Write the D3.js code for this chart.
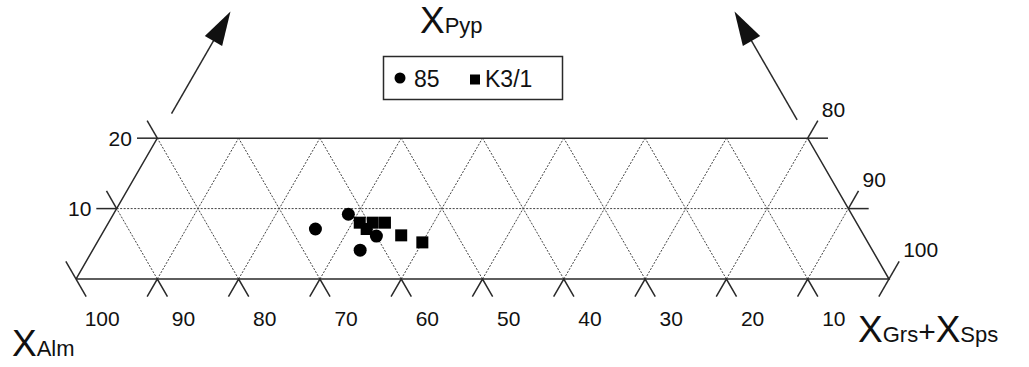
<!DOCTYPE html>
<html>
<head>
<meta charset="utf-8">
<script src="https://cdn.jsdelivr.net/npm/d3@7"></script>
<style>
  body { margin: 0; background: #fff; }
  text { font-family: "Liberation Sans", Arial, sans-serif; fill: #111; }
</style>
</head>
<body>
<svg id="chart" width="1029" height="367"></svg>
<script>
// compositions in percent: Pyp, Grs+Sps, Alm
const s85Pyp = [7.1, 9.2, 6.1, 4.1];
const s85GrsSps = [25.9, 28.9, 33.9, 32.9];
const s85Alm = [67.0, 61.9, 60.0, 63.0];

const k31Pyp = [8.0, 8.0, 8.0, 7.1, 6.2, 5.2];
const k31GrsSps = [30.9, 32.5, 34.0, 32.2, 36.9, 40.0];
const k31Alm = [61.1, 59.5, 58.0, 60.7, 56.9, 54.8];

const almTicks = [100, 90, 80, 70, 60, 50, 40, 30, 20, 10];
const pypTicks = [10, 20];
const grsSpsTicks = [80, 90, 100];
const gridSteps = [0, 10, 20, 30, 40, 50, 60, 70, 80, 90, 100];
const pypMax = 20;

const svg = d3.select('#chart');

// ternary projection: bottom edge runs Alm=100 (left) -> Grs+Sps=100 (right)
const side = 813;
const x = d3.scaleLinear().domain([0, 100]).range([76, 76 + side]);
const y = d3.scaleLinear().domain([0, 100]).range([279, 279 - side * Math.sqrt(3) / 2]);
const proj = (p, g) => [x(g + p / 2), y(p)];
const tick = 2.5; // tick length, percent

const line = d3.line();

// dotted grid
const grid = svg.append('g')
  .attr('fill', 'none')
  .attr('stroke', '#444')
  .attr('stroke-width', 1)
  .attr('stroke-dasharray', '2,1.5');

// constant Grs+Sps lines
grid.selectAll('path.g')
  .data(gridSteps.filter((g) => g > 0 && g < 100))
  .enter()
  .append('path')
  .attr('d', (g) => line([proj(0, g), proj(Math.min(pypMax, 100 - g), g)]));

// constant Alm lines
grid.selectAll('path.a')
  .data(gridSteps.filter((a) => a > 0 && a < 100))
  .enter()
  .append('path')
  .attr('class', 'a')
  .attr('d', (a) => {
    const top = Math.min(pypMax, 100 - a);
    return line([proj(0, 100 - a), proj(top, 100 - a - top)]);
  });

// Pyp = 10 line
grid.append('path')
  .attr('d', line([proj(10, 0), proj(10, 90)]));

// outline
const frame = svg.append('g')
  .attr('fill', 'none')
  .attr('stroke', '#2a2a2a')
  .attr('stroke-width', 1.5);

frame.append('path')
  .attr('d', line([proj(0, 0), proj(pypMax, 0), proj(pypMax, 100 - pypMax), proj(0, 100), proj(0, 0)]));

// bottom ticks (Alm)
almTicks.forEach((a) => {
  const g = 100 - a;
  if (g > 0) {
    frame.append('path').attr('d', line([proj(-tick, g), proj(0, g), proj(-tick, g + tick)]));
  } else {
    frame.append('path').attr('d', line([proj(tick, g - tick), proj(-tick, g + tick)]));
  }
});

// right corner tick
frame.append('path').attr('d', line([proj(-tick, 100), proj(tick, 100)]));

// left edge ticks (Pyp)
pypTicks.forEach((p) => {
  frame.append('path').attr('d', line([proj(p, 0), proj(p, -tick)]));
  frame.append('path').attr('d', line([proj(p, 0), proj(p + tick, -tick)]));
});

// right edge ticks (Grs+Sps)
grsSpsTicks.filter((g) => g < 100).forEach((g) => {
  const p = 100 - g;
  frame.append('path').attr('d', line([proj(p, g), proj(p, g + tick)]));
  frame.append('path').attr('d', line([proj(p, g), proj(p + tick, g)]));
});

// tick labels
const labels = svg.append('g').attr('font-size', 21);

labels.selectAll('text.alm')
  .data(almTicks)
  .enter()
  .append('text')
  .attr('x', (a) => proj(-tick, 100 - a + tick)[0] + 16)
  .attr('y', (a) => proj(-tick, 100 - a + tick)[1] + 29)
  .attr('text-anchor', 'middle')
  .text((a) => a);

labels.selectAll('text.pyp')
  .data(pypTicks)
  .enter()
  .append('text')
  .attr('x', (p) => proj(p, -tick)[0] - 5)
  .attr('y', (p) => proj(p, -tick)[1] + 7.5)
  .attr('text-anchor', 'end')
  .text((p) => p);

labels.selectAll('text.gs')
  .data(grsSpsTicks)
  .enter()
  .append('text')
  .attr('x', (g) => proj(100 - g + tick, g)[0] + 4)
  .attr('y', (g) => proj(100 - g + tick, g)[1] - 4)
  .text((g) => g);

// arrows along the extended side edges
const arrowPyp = [[23.5, 38], [22.6, 38]];
const arrows = [
  arrowPyp[0].map((p) => proj(p, 0)),
  arrowPyp[1].map((p) => proj(p, 100 - p)),
];
arrows.forEach(([from, to]) => {
  const dx = to[0] - from[0];
  const dy = to[1] - from[1];
  const len = Math.hypot(dx, dy);
  const ux = dx / len;
  const uy = dy / len;
  const headL = 34;
  const headW = 10;
  const bx = to[0] - ux * headL;
  const by = to[1] - uy * headL;
  svg.append('path')
    .attr('d', line([from, [bx + ux * 4, by + uy * 4]]))
    .attr('stroke', '#2a2a2a')
    .attr('stroke-width', 1.5);
  svg.append('path')
    .attr('d', line([to, [bx - uy * headW, by + ux * headW], [bx + uy * headW, by - ux * headW]]) + 'Z')
    .attr('fill', '#111');
});

// data points
const pts85 = s85Pyp.map((p, i) => ({ p, g: s85GrsSps[i], a: s85Alm[i] }));
const ptsK31 = k31Pyp.map((p, i) => ({ p, g: k31GrsSps[i], a: k31Alm[i] }));

svg.append('g')
  .selectAll('circle')
  .data(pts85)
  .enter()
  .append('circle')
  .attr('cx', (d) => proj(d.p, d.g)[0])
  .attr('cy', (d) => proj(d.p, d.g)[1])
  .attr('r', 6.5)
  .attr('fill', '#000');

svg.append('g')
  .selectAll('rect')
  .data(ptsK31)
  .enter()
  .append('rect')
  .attr('x', (d) => proj(d.p, d.g)[0] - 6)
  .attr('y', (d) => proj(d.p, d.g)[1] - 6)
  .attr('width', 12)
  .attr('height', 12)
  .attr('fill', '#000');

// axis titles
const axisTitle = (tx, ty, parts) => {
  const t = svg.append('text').attr('x', tx).attr('y', ty);
  parts.forEach(([s, size]) => t.append('tspan').attr('font-size', size).text(s));
};
axisTitle(420, 33, [['X', 37], ['Pyp', 22]]);
axisTitle(12, 356, [['X', 37], ['Alm', 22]]);
axisTitle(858, 342, [['X', 37], ['Grs', 22], ['+', 30], ['X', 37], ['Sps', 22]]);

// legend
const legend = svg.append('g');
legend.append('rect')
  .attr('x', 383.5)
  .attr('y', 56.5)
  .attr('width', 179)
  .attr('height', 43)
  .attr('fill', '#fff')
  .attr('stroke', '#2a2a2a')
  .attr('stroke-width', 1.5);
legend.append('circle').attr('cx', 400).attr('cy', 78).attr('r', 5.5).attr('fill', '#000');
legend.append('text').attr('x', 414).attr('y', 87).attr('font-size', 23).text('85');
legend.append('rect').attr('x', 470).attr('y', 74.5).attr('width', 10).attr('height', 10).attr('fill', '#000');
legend.append('text').attr('x', 485).attr('y', 87).attr('font-size', 23).text('K3/1');
</script>
</body>
</html>
